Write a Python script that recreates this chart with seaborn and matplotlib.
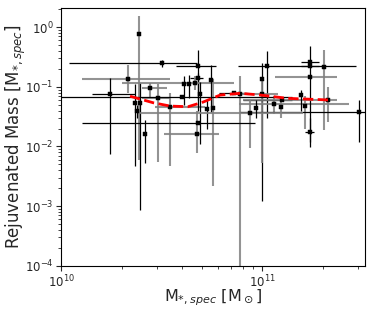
import numpy as np
import pandas as pd
import matplotlib
matplotlib.use("Agg")
import matplotlib.pyplot as plt
import seaborn as sns

# stellar mass in units of 1e10 Msun, with lower / upper bounds
mass = [2.44, 3.16, 2.15, 1.74, 2.34, 2.48, 2.75, 2.62, 3.04, 3.49,
        4.73, 4.80, 4.80, 4.32, 4.06, 4.61, 5.53, 4.90, 5.33, 5.69,
        7.20, 7.78, 10.0, 10.5, 9.93, 11.5, 12.5, 17.2, 17.2, 20.2,
        17.2, 21.2, 15.6, 16.4, 30.4, 17.2, 8.71, 9.29, 4.79, 4.0,
        12.4, 2.39]
mass_lo = [2.44, 1.10, 1.27, 1.42, 2.34, 2.48, 2.52, 2.62, 2.52, 2.94,
           3.23, 3.73, 4.38, 4.32, 4.06, 2.00, 5.53, 4.90, 5.33, 5.69,
           6.11, 6.90, 10.0, 7.57, 8.00, 7.70, 8.00, 15.6, 15.6, 20.2,
           11.6, 8.04, 15.6, 16.4, 7.78, 16.4, 2.38, 9.29, 1.27, 0.9,
           12.4, 2.39]
mass_hi = [2.44, 4.73, 3.49, 2.33, 2.34, 2.48, 3.36, 2.62, 3.49, 5.20,
           6.12, 5.89, 5.09, 4.32, 4.06, 7.20, 5.53, 4.90, 5.33, 5.69,
           8.39, 8.60, 10.0, 29.3, 12.0, 27.0, 14.0, 19.1, 19.1, 20.2,
           23.5, 23.5, 15.6, 16.4, 32.8, 18.0, 16.0, 9.29, 9.23, 14.0,
           12.4, 2.39]
# rejuvenated mass fraction, with lower / upper bounds
rej = [0.773, 0.247, 0.133, 0.0748, 0.0541, 0.0528, 0.0964, 0.0162, 0.0641, 0.0464,
       0.0162, 0.222, 0.138, 0.110, 0.110, 0.117, 0.128, 0.0756, 0.0424, 0.0436,
       0.0777, 0.0765, 0.135, 0.220, 0.0756, 0.0508, 0.060, 0.263, 0.225, 0.217,
       0.147, 0.060, 0.0728, 0.0482, 0.0373, 0.0173, 0.036, 0.0436, 0.025, 0.0666,
       0.045, 0.0393]
rej_lo = [0.0059, 0.214, 0.0786, 0.0075, 0.0047, 0.00087, 0.0666, 0.0053, 0.0056, 0.0047,
          0.0077, 0.040, 0.060, 0.064, 0.050, 0.090, 0.038, 0.011, 0.020, 0.0022,
          0.0777, 0.00001, 0.00122, 0.0296, 0.0053, 0.035, 0.060, 0.0118, 0.225, 0.0189,
          0.147, 0.026, 0.040, 0.020, 0.0118, 0.0099, 0.0093, 0.030, 0.025, 0.0666,
          0.030, 0.0300]
rej_hi = [1.55, 0.280, 0.231, 0.138, 0.110, 0.117, 0.117, 0.0277, 0.110, 0.0777,
          0.040, 0.412, 0.170, 0.160, 0.150, 0.150, 0.231, 0.120, 0.060, 0.133,
          0.0777, 0.150, 0.250, 0.401, 0.140, 0.070, 0.060, 0.486, 0.225, 0.412,
          0.147, 0.100, 0.090, 0.070, 0.060, 0.030, 0.060, 0.060, 0.025, 0.0666,
          0.060, 0.0500]
faint = [1, 0, 1, 0, 0, 0, 1, 0, 1, 1,
         1, 0, 0, 0, 0, 1, 0, 0, 0, 1,
         0, 1, 0, 0, 1, 1, 0, 0, 0, 1,
         1, 1, 0, 1, 0, 0, 1, 0, 0, 0,
         1, 0]

# running median (red dashed)
med_mass = [2.20, 2.87, 3.49, 4.28, 5.09, 6.18, 7.78, 9.77, 13.3, 21.8]
med_rej = [0.0695, 0.054, 0.0475, 0.0464, 0.0556, 0.0728, 0.0777, 0.0728, 0.0641, 0.060]

df = pd.DataFrame({"mass": np.array(mass) * 1e10, "mass_lo": np.array(mass_lo) * 1e10,
                   "mass_hi": np.array(mass_hi) * 1e10, "rej": rej,
                   "rej_lo": rej_lo, "rej_hi": rej_hi, "faint": faint})
med = pd.DataFrame({"mass": np.array(med_mass) * 1e10, "rej": med_rej})

sns.set_style("ticks")
fig = plt.figure(figsize=(3.73, 3.11), dpi=100)
ax = fig.add_axes([0.164, 0.145, 0.815, 0.829])

for _, r in df.iterrows():
    col = "0.5" if r["faint"] else "black"
    lw = 1.5 if r["faint"] else 0.9
    ax.errorbar(r["mass"], r["rej"],
                xerr=[[r["mass"] - r["mass_lo"]], [r["mass_hi"] - r["mass"]]],
                yerr=[[r["rej"] - r["rej_lo"]], [r["rej_hi"] - r["rej"]]],
                fmt="none", ecolor=col, elinewidth=lw, alpha=0.85 if r["faint"] else 1)

sns.scatterplot(data=df, x="mass", y="rej", ax=ax, color="black", marker="s",
                s=5, edgecolor="black", linewidth=0.3, zorder=5)
sns.lineplot(data=med, x="mass", y="rej", ax=ax, color="red", linestyle="--",
             linewidth=2, zorder=6)

ax.set_xscale("log")
ax.set_yscale("log")
ax.set_xlim(1e10, 3.25e11)
ax.set_ylim(1e-4, 2.08)
ax.set_xlabel(r"M$_{*,spec}$ [M$_\odot$]", fontsize=11.5)
ax.set_ylabel(r"Rejuvenated Mass [M$_{*,spec}$]", fontsize=12)
ax.yaxis.set_label_coords(-0.11, 0.5)
ax.xaxis.set_label_coords(0.5, -0.085)
ax.tick_params(labelsize=8.5, pad=2)
for s in ax.spines.values():
    s.set_visible(True)
    s.set_color("black")

fig.savefig("out.png", dpi=100)
